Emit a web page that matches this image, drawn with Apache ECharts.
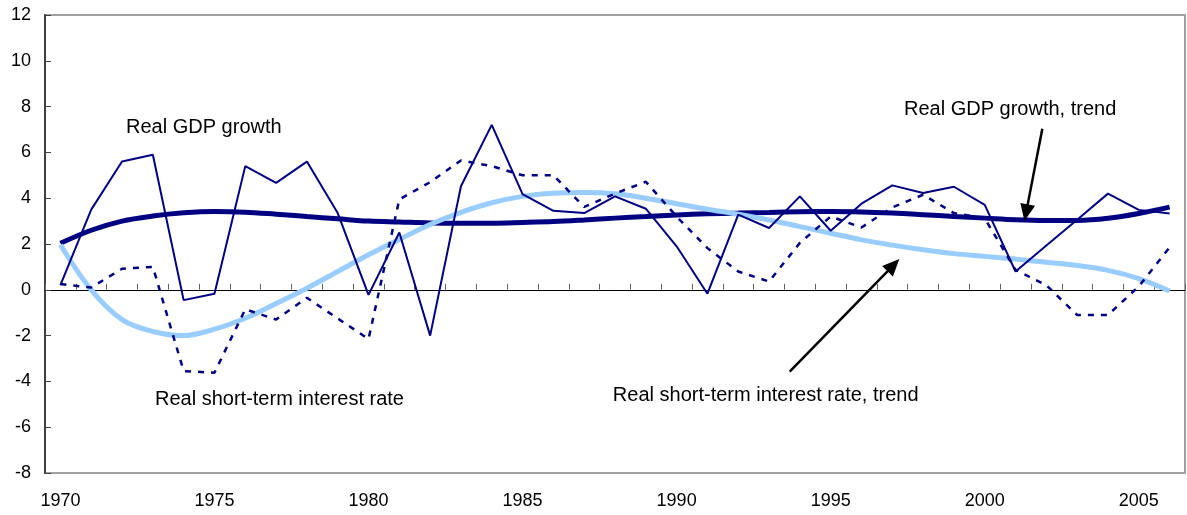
<!DOCTYPE html>
<html>
<head>
<meta charset="utf-8">
<script src="https://cdn.jsdelivr.net/npm/echarts@6/dist/echarts.min.js"></script>
<style>
  html, body { margin: 0; padding: 0; background: #fff; }
  #chart { width: 1187px; height: 515px; }
</style>
</head>
<body>
<div id="chart"></div>
<script>
var years = ['1970', '1971', '1972', '1973', '1974', '1975', '1976', '1977', '1978', '1979',
  '1980', '1981', '1982', '1983', '1984', '1985', '1986', '1987', '1988', '1989',
  '1990', '1991', '1992', '1993', '1994', '1995', '1996', '1997', '1998', '1999',
  '2000', '2001', '2002', '2003', '2004', '2005', '2006'];

var gdpGrowth = [0.2, 3.5, 5.6, 5.9, -0.45, -0.17, 5.4, 4.67, 5.6, 3.35,
  -0.22, 2.5, -2.0, 4.52, 7.2, 4.18, 3.45, 3.35, 4.08, 3.54,
  1.9, -0.17, 3.28, 2.7, 4.08, 2.58, 3.76, 4.56, 4.23, 4.5,
  3.71, 0.8, 1.93, 3.06, 4.2, 3.49, 3.33];

var interestRate = [0.25, 0.1, 0.92, 1.0, -3.55, -3.62, -0.85, -1.3, -0.35, -1.25,
  -2.15, 3.95, 4.7, 5.65, 5.4, 5.0, 5.0, 3.62, 4.2, 4.72,
  3.2, 1.82, 0.8, 0.36, 2.05, 3.2, 2.72, 3.6, 4.15, 3.35,
  3.12, 0.87, 0.2, -1.1, -1.1, 0.15, 1.85];

var gdpTrend = [2.03, 2.6, 3.0, 3.22, 3.36, 3.42, 3.39, 3.3, 3.2, 3.1,
  3.0, 2.96, 2.92, 2.91, 2.91, 2.94, 2.98, 3.05, 3.13, 3.2,
  3.27, 3.32, 3.35, 3.38, 3.41, 3.42, 3.4, 3.35, 3.28, 3.2,
  3.13, 3.06, 3.03, 3.03, 3.12, 3.33, 3.61];

var rateTrend = [1.97, 0.0, -1.3, -1.82, -2.0, -1.72, -1.24, -0.6, 0.07, 0.8,
  1.53, 2.2, 2.85, 3.38, 3.8, 4.08, 4.22, 4.25, 4.19, 4.0,
  3.76, 3.52, 3.3, 3.05, 2.76, 2.47, 2.18, 1.95, 1.75, 1.58,
  1.46, 1.34, 1.2, 1.06, 0.85, 0.49, -0.05];

// annotation anchors: [category index, value]
var labelTexts = ['Real GDP growth', 'Real GDP growth, trend',
  'Real short-term interest rate', 'Real short-term interest rate, trend'];
var labelAnchors = [[2.13, 7.1], [27.38, 7.86], [3.07, -4.8], [17.93, -4.63]];
var arrowAnchors = [
  [[31.87, 7.03], [31.29, 3.0]],
  [[23.67, -3.57], [27.23, 1.34]]
];

var font = '"Liberation Sans", Arial, sans-serif';
var navy = '#000080';

var chart = echarts.init(document.getElementById('chart'));

var option = {
  animation: false,
  backgroundColor: '#fff',
  grid: {
    left: 45, right: 2, top: 15, bottom: 42,
    show: true,
    borderColor: '#a0a0a0',
    borderWidth: 2,
    containLabel: false,
    outerBoundsMode: 'none'
  },
  xAxis: [
    {
      // labels along the bottom
      type: 'category',
      data: years,
      position: 'bottom',
      boundaryGap: true,
      axisLine: { show: false, onZero: false },
      axisTick: { show: false },
      splitLine: { show: false },
      axisLabel: {
        interval: function (index) { return index % 5 === 0; },
        color: '#000',
        fontFamily: font,
        fontSize: 18,
        margin: 19
      }
    },
    {
      // line through zero with ticks
      type: 'category',
      data: years,
      position: 'bottom',
      boundaryGap: true,
      axisLine: { show: true, onZero: true, lineStyle: { color: '#000', width: 1 } },
      axisTick: { show: true, inside: true, length: 6, interval: 0, lineStyle: { color: '#666' } },
      axisLabel: { show: false },
      splitLine: { show: false }
    },
    {
      // helper axis for annotations
      type: 'value',
      min: -0.5,
      max: 36.5,
      show: false
    }
  ],
  yAxis: {
    type: 'value',
    min: -8,
    max: 12,
    interval: 2,
    axisLine: { show: true, onZero: false, lineStyle: { color: '#404040', width: 2 } },
    axisTick: { show: true, inside: true, length: 6, lineStyle: { color: '#404040' } },
    splitLine: { show: false },
    axisLabel: {
      color: '#000',
      fontFamily: font,
      fontSize: 18,
      margin: 14
    }
  },
  series: [
    {
      name: 'Real GDP growth, trend',
      type: 'line',
      data: gdpTrend,
      smooth: 0.35,
      symbol: 'none',
      lineStyle: { color: navy, width: 5 }
    },
    {
      name: 'Real short-term interest rate, trend',
      type: 'line',
      data: rateTrend,
      smooth: 0.35,
      symbol: 'none',
      lineStyle: { color: '#99ccff', width: 5 }
    },
    {
      name: 'Real short-term interest rate',
      type: 'line',
      data: interestRate,
      symbol: 'none',
      lineStyle: { color: navy, width: 2.5, type: [6, 7] }
    },
    {
      name: 'Real GDP growth',
      type: 'line',
      data: gdpGrowth,
      symbol: 'none',
      lineStyle: { color: navy, width: 2 }
    }
  ]
};

chart.setOption(option);

function toPx(p) {
  return chart.convertToPixel({ xAxisIndex: 2, yAxisIndex: 0 }, p);
}

var graphics = [];
labelTexts.forEach(function (t, i) {
  var p = toPx(labelAnchors[i]);
  graphics.push({
    type: 'text',
    z: 100,
    style: {
      text: t,
      x: p[0],
      y: p[1],
      font: '20px ' + font,
      fill: '#000',
      align: 'left',
      verticalAlign: 'middle'
    }
  });
});

arrowAnchors.forEach(function (a) {
  var p0 = toPx(a[0]);
  var p1 = toPx(a[1]);
  var dx = p1[0] - p0[0], dy = p1[1] - p0[1];
  var len = Math.sqrt(dx * dx + dy * dy);
  var ux = dx / len, uy = dy / len;
  var headLen = 17, headHalf = 7.5;
  var bx = p1[0] - ux * headLen, by = p1[1] - uy * headLen;
  graphics.push({
    type: 'line',
    z: 100,
    shape: { x1: p0[0], y1: p0[1], x2: bx + ux * 2, y2: by + uy * 2 },
    style: { stroke: '#000', lineWidth: 2.5 }
  });
  graphics.push({
    type: 'polygon',
    z: 100,
    shape: {
      points: [
        [p1[0], p1[1]],
        [bx - uy * headHalf, by + ux * headHalf],
        [bx + uy * headHalf, by - ux * headHalf]
      ]
    },
    style: { fill: '#000' }
  });
});

chart.setOption({ graphic: graphics });
</script>
</body>
</html>
